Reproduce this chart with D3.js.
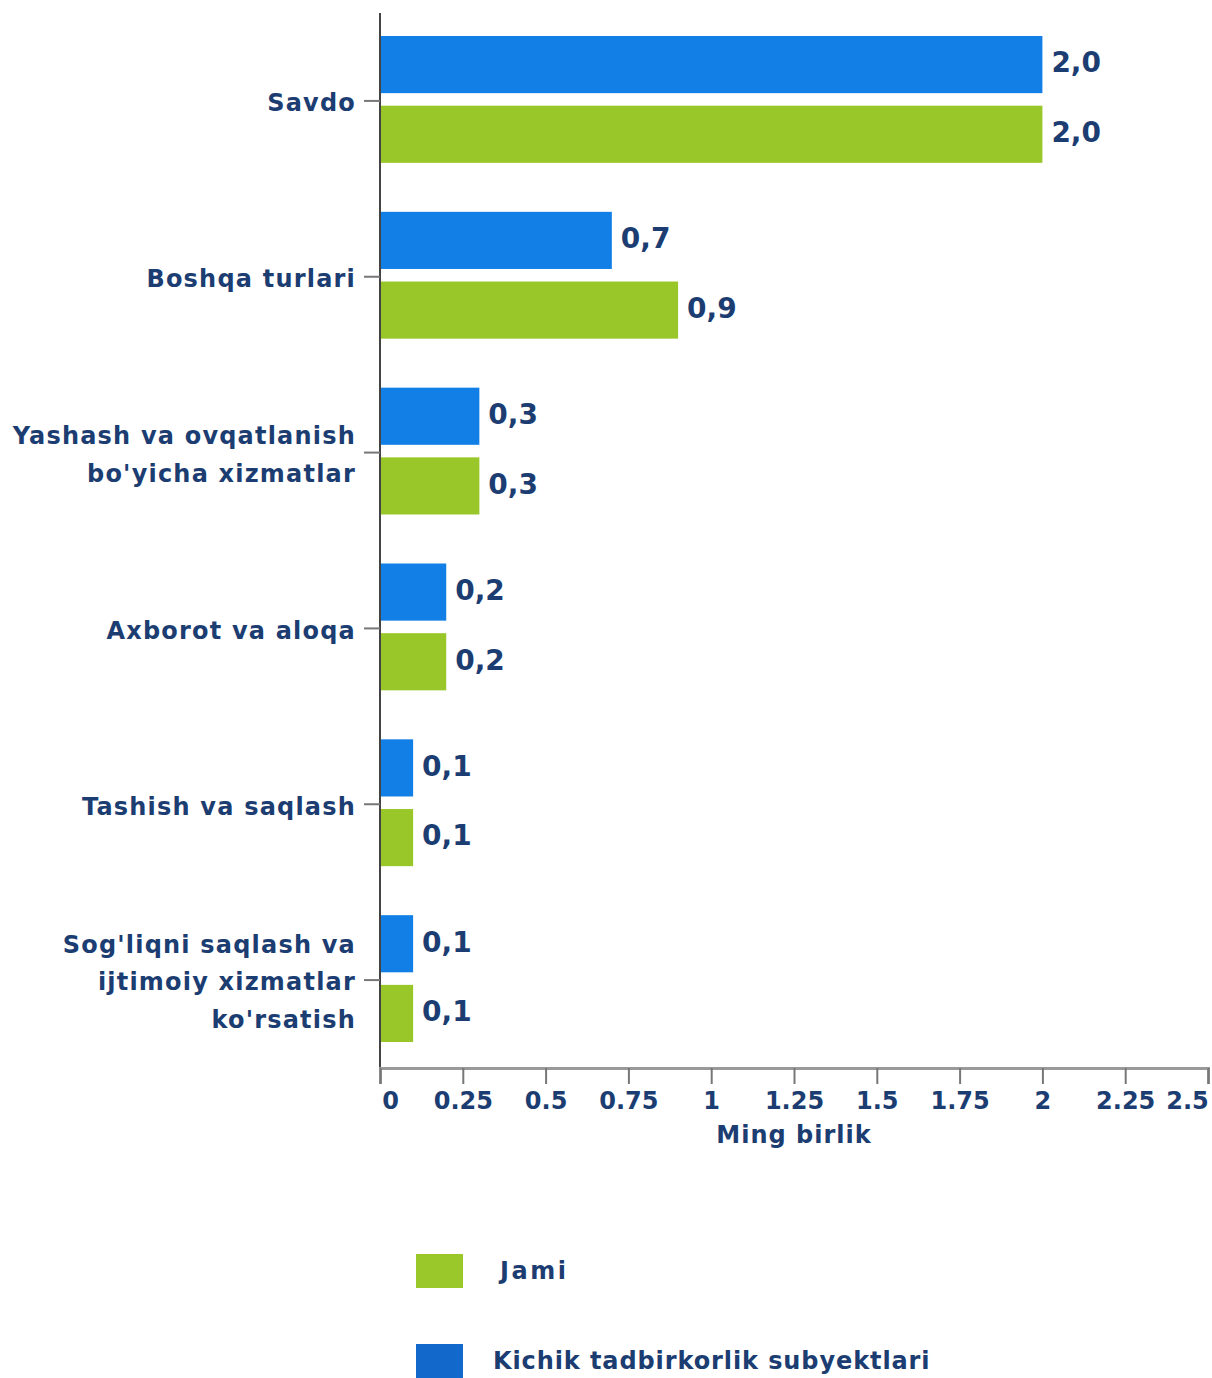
<!DOCTYPE html>
<html>
<head>
<meta charset="utf-8">
<script src="https://cdn.jsdelivr.net/npm/d3@7"></script>
<style>
  body { margin: 0; background: #fff; }
  text { font-family: "DejaVu Sans", Verdana, sans-serif; font-weight: bold; fill: #1c3d72; }
</style>
</head>
<body>
<svg id="chart" width="1212" height="1378"></svg>
<script>
const categories = [
  ["Savdo"],
  ["Boshqa turlari"],
  ["Yashash va ovqatlanish", "bo'yicha xizmatlar"],
  ["Axborot va aloqa"],
  ["Tashish va saqlash"],
  ["Sog'liqni saqlash va", "ijtimoiy xizmatlar", "ko'rsatish"]
];
const smallBiz = [2.0, 0.7, 0.3, 0.2, 0.1, 0.1];
const total = [2.0, 0.9, 0.3, 0.2, 0.1, 0.1];
const ticks = [0, 0.25, 0.5, 0.75, 1, 1.25, 1.5, 1.75, 2, 2.25, 2.5];
const seriesNames = ["Jami", "Kichik tadbirkorlik subyektlari"];

const svg = d3.select("#chart");
const mLeft = 380, mRight = 1208, mTop = 13, mBottom = 1068;

const x = d3.scaleLinear().domain([0, 2.5]).range([mLeft, mRight]);
const y = d3.scaleBand().domain(d3.range(categories.length)).range([mTop, mBottom]);
const sub = d3.scaleBand().domain([0, 1]).range([23, y.bandwidth() - 26]).paddingInner(0.18);

const fmt = v => v.toFixed(1).replace(".", ",");

const rows = categories.map((c, i) => ({ i, vals: [smallBiz[i], total[i]] }));
const colors = ["#127fe6", "#99c72a"];

const g = svg.append("g");
const band = g.selectAll(".band").data(rows).enter().append("g")
  .attr("transform", d => `translate(0,${y(d.i)})`);

band.selectAll("rect").data(d => d.vals).enter().append("rect")
  .attr("x", x(0))
  .attr("y", (d, j) => sub(j))
  .attr("width", d => x(d) - x(0))
  .attr("height", sub.bandwidth())
  .attr("fill", (d, j) => colors[j]);

band.selectAll(".val").data(d => d.vals).enter().append("text")
  .attr("class", "val")
  .attr("x", d => x(d) + 9)
  .attr("y", (d, j) => sub(j) + sub.bandwidth() / 2 - 2)
  .attr("dy", "0.35em")
  .attr("font-size", 28)
  .text(fmt);

// category axis
const yAxis = g.append("g");
yAxis.append("line")
  .attr("x1", mLeft).attr("x2", mLeft)
  .attr("y1", mTop).attr("y2", mBottom + 14)
  .attr("stroke", "#444").attr("stroke-width", 2);
yAxis.selectAll(".tk").data(rows).enter().append("line")
  .attr("x1", mLeft - 16).attr("x2", mLeft)
  .attr("y1", d => y(d.i) + y.bandwidth() / 2)
  .attr("y2", d => y(d.i) + y.bandwidth() / 2)
  .attr("stroke", "#777").attr("stroke-width", 2);
const lab = yAxis.selectAll(".lab").data(rows).enter().append("text")
  .attr("text-anchor", "end")
  .attr("font-size", 24)
  .attr("letter-spacing", 1.2)
  .attr("transform", d => {
    const n = categories[d.i].length;
    return `translate(356,${y(d.i) + y.bandwidth() / 2 - (n - 1) * 37.5 / 2 + 2})`;
  });
lab.selectAll("tspan").data(d => categories[d.i]).enter().append("tspan")
  .attr("x", 0)
  .attr("y", (d, k) => k * 37.5)
  .attr("dy", "0.35em")
  .text(d => d);

// value axis
const xAxis = g.append("g").attr("transform", `translate(0,${mBottom})`)
  .call(d3.axisBottom(x).tickValues(ticks).tickSize(16).tickFormat(d => String(d)));
xAxis.select(".domain").attr("stroke", "#999").attr("stroke-width", 3);
xAxis.selectAll(".tick line").attr("stroke", "#777").attr("stroke-width", 2);
xAxis.selectAll(".tick text")
  .attr("font-family", null)
  .attr("font-size", 24)
  .attr("fill", null)
  .attr("y", 24)
  .attr("dx", d => d === 0 ? 10 : (d === 2.5 ? -21 : 0));

g.append("text")
  .attr("x", (mLeft + mRight) / 2)
  .attr("y", 1135)
  .attr("dy", "0.35em")
  .attr("text-anchor", "middle")
  .attr("font-size", 24)
  .attr("letter-spacing", 1)
  .text("Ming birlik");

// legend
const legendColors = ["#9ac72a", "#1368cc"];
const leg = svg.append("g").selectAll("g").data(seriesNames).enter().append("g")
  .attr("transform", (d, i) => `translate(416,${1254 + i * 90})`);
leg.append("rect").attr("width", 47).attr("height", 34).attr("fill", (d, i) => legendColors[i]);
leg.append("text")
  .attr("x", (d, i) => i === 0 ? 84 : 77)
  .attr("y", 17)
  .attr("dy", "0.35em")
  .attr("font-size", 24)
  .attr("letter-spacing", (d, i) => i === 0 ? 2.5 : 0.9)
  .text(d => d);
</script>
</body>
</html>
